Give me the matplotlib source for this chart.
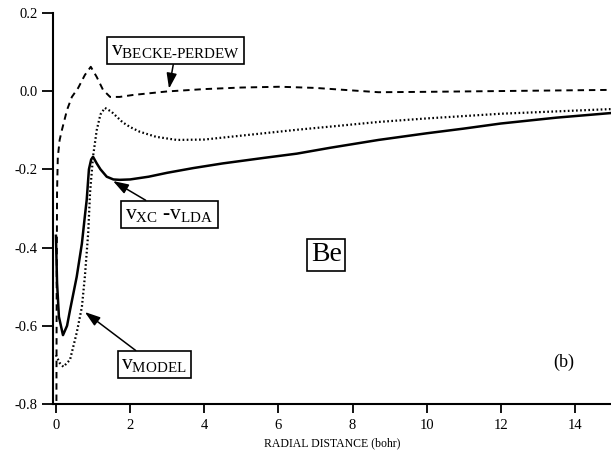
import matplotlib
matplotlib.use('Agg')
from matplotlib import pyplot as plt

# font setup - Times-like look of the original figure
plt.rcParams['font.family'] = ['Liberation Serif', 'DejaVu Serif']
plt.rcParams['mathtext.fontset'] = 'custom'
plt.rcParams['mathtext.rm'] = 'Liberation Serif'
plt.rcParams['mathtext.it'] = 'Liberation Serif:italic'

# v_xc - v_LDA (solid)
r_xc = [0.0, 0.03, 0.08, 0.19, 0.3, 0.38, 0.56, 0.7, 0.78, 0.83, 0.89, 0.95,
        1.0, 1.1, 1.2, 1.37, 1.55, 1.72, 2.0, 2.5, 3.0, 3.7, 4.5, 5.6, 6.5,
        7.4, 8.7, 10.0, 11.0, 12.0, 13.5, 15.0]
v_xc = [-0.37, -0.49, -0.577, -0.624, -0.6, -0.56, -0.475, -0.39, -0.32,
        -0.278, -0.2, -0.175, -0.168, -0.185, -0.2, -0.219, -0.226, -0.227,
        -0.226, -0.219, -0.209, -0.197, -0.185, -0.171, -0.16, -0.145, -0.125,
        -0.108, -0.096, -0.083, -0.068, -0.056]

# v_model (dotted)
r_model = [0.0, 0.1, 0.2, 0.38, 0.56, 0.7, 0.78, 0.87, 0.92, 1.0, 1.1, 1.2,
           1.32, 1.5, 1.8, 2.0, 2.26, 2.7, 3.26, 4.0, 4.7, 5.5, 6.5, 7.5, 8.7,
           10.0, 12.0, 13.5, 15.0]
v_model = [-0.675, -0.695, -0.705, -0.687, -0.618, -0.552, -0.475, -0.363,
           -0.26, -0.168, -0.1, -0.06, -0.043, -0.053, -0.08, -0.092, -0.104,
           -0.117, -0.125, -0.124, -0.117, -0.109, -0.099, -0.09, -0.079,
           -0.07, -0.058, -0.052, -0.046]

# v_Becke-Perdew (dashed)
r_bp = [0.012, 0.02, 0.03, 0.05, 0.1, 0.16, 0.3, 0.43, 0.6, 0.78, 0.94, 1.1,
        1.27, 1.46, 1.72, 2.08, 3.0, 4.0, 5.0, 6.04, 7.0, 8.7, 10.0, 12.0, 15.0]
v_bp = [-0.85, -0.5, -0.26, -0.17, -0.125, -0.1, -0.048, -0.015, 0.008, 0.041,
        0.062, 0.036, 0.003, -0.015, -0.015, -0.01, -0.001, 0.005, 0.009,
        0.011, 0.008, -0.003, -0.002, 0.0, 0.003]

x_ticks = [0, 2, 4, 6, 8, 10, 12, 14]
y_ticks = [0.2, 0.0, -0.2, -0.4, -0.6, -0.8]
y_labels = ['0.2', '0.0', '-0.2', '-0.4', '-0.6', '-0.8']

fig = plt.figure(figsize=(6.11, 4.58), dpi=100)
ax = fig.add_axes([0.0867, 0.118, 0.915, 0.854])

ax.plot(r_xc, v_xc, color='black', lw=1.8)
ax.plot(r_model, v_model, color='black', lw=1.6, linestyle=(0, (0.75, 1.1)))
ax.plot(r_bp, v_bp, color='black', lw=1.4, linestyle=(0, (3.3, 2.5)))

ax.set_xlim(-0.08, 15.0)
ax.set_ylim(-0.8, 0.2)
ax.set_xticks(x_ticks)
ax.set_yticks(y_ticks)
ax.set_yticklabels(y_labels)
ax.tick_params(axis='both', direction='out', width=1.3, labelsize=10.5)
ax.tick_params(axis='y', length=8, pad=3)
ax.tick_params(axis='x', length=6.5, pad=4)
for s in ['top', 'right']:
    ax.spines[s].set_visible(False)
for s in ['left', 'bottom']:
    ax.spines[s].set_linewidth(1.5)

ax.set_xlabel('RADIAL DISTANCE (bohr)', fontsize=8.5, labelpad=4)

box = dict(boxstyle='square,pad=0.18', fc='white', ec='black', lw=1.2)
arr = dict(arrowstyle='-|>,head_length=0.6,head_width=0.2', color='black',
           lw=1.1, shrinkA=0, shrinkB=0)

ax.annotate(r'$\mathrm{v}_{\mathrm{BECKE}\text{-}\mathrm{PERDEW}}$',
            xy=(3.05, 0.006), xytext=(3.23, 0.103), fontsize=15.5,
            ha='center', va='center', bbox=box, arrowprops=arr)
ax.annotate(r'$\mathrm{v}_{\mathrm{XC}}$ -$\mathrm{v}_{\mathrm{LDA}}$',
            xy=(1.54, -0.23), xytext=(3.06, -0.315), fontsize=15.5,
            ha='center', va='center', bbox=box, arrowprops=arr)
ax.annotate(r'$\mathrm{v}_{\mathrm{MODEL}}$',
            xy=(0.78, -0.565), xytext=(2.65, -0.699), fontsize=15.5,
            ha='center', va='center', bbox=box, arrowprops=arr)
ax.text(7.29, -0.419, 'Be', fontsize=20, ha='center', va='center',
        bbox=dict(boxstyle='square,pad=0.12', fc='white', ec='black', lw=1.2))
ax.text(13.69, -0.693, '(b)', fontsize=13, ha='center', va='center')

fig.savefig('out.png', dpi=100)
